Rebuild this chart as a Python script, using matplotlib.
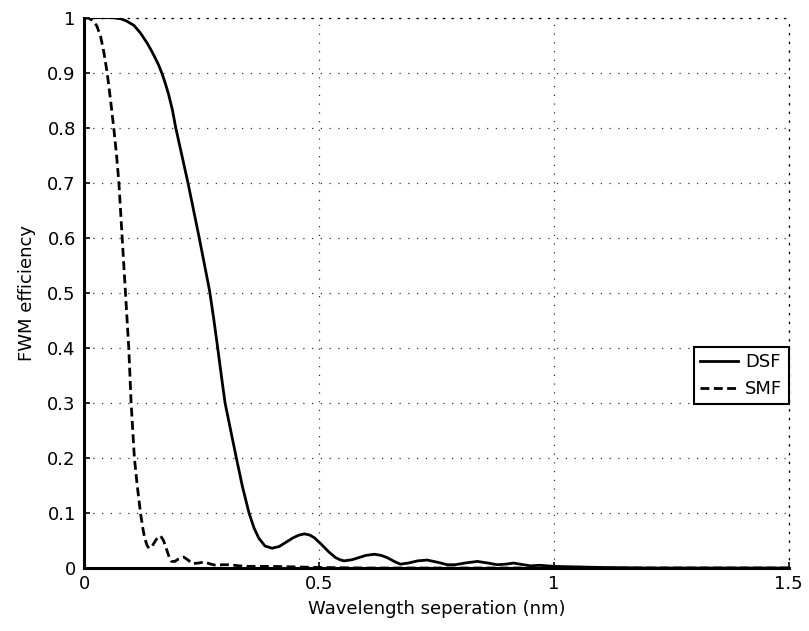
import matplotlib
matplotlib.use("Agg")
import matplotlib.pyplot as plt

plt.rcParams['font.family'] = ['DejaVu Sans']

# DSF (solid)
dsf_x = [0, 0.02, 0.04, 0.06, 0.078, 0.09, 0.106, 0.12, 0.134, 0.142, 0.15, 0.158,
         0.166, 0.173, 0.18, 0.188, 0.195, 0.208, 0.221, 0.233, 0.245, 0.256, 0.267,
         0.276, 0.284, 0.292, 0.300, 0.312, 0.324, 0.337, 0.351, 0.362, 0.372, 0.385,
         0.40, 0.415, 0.43, 0.445, 0.458, 0.469, 0.48, 0.49, 0.505, 0.52, 0.535, 0.545,
         0.553, 0.57, 0.585, 0.60, 0.618, 0.632, 0.645, 0.66, 0.673, 0.69, 0.71, 0.73,
         0.755, 0.773, 0.79, 0.81, 0.837, 0.86, 0.879, 0.897, 0.914, 0.935, 0.95, 0.97,
         0.985, 1.0, 1.05, 1.1, 1.2, 1.3, 1.4, 1.5]
dsf_y = [1.0, 1.0, 1.0, 1.0, 0.998, 0.994, 0.986, 0.972, 0.954, 0.942, 0.929, 0.915,
         0.898, 0.88, 0.86, 0.832, 0.80, 0.75, 0.70, 0.65, 0.60, 0.552, 0.504,
         0.452, 0.402, 0.35, 0.30, 0.25, 0.20, 0.148, 0.10, 0.072, 0.054, 0.04,
         0.036, 0.039, 0.047, 0.055, 0.060, 0.062, 0.060, 0.055, 0.043, 0.03, 0.019, 0.015,
         0.013, 0.015, 0.019, 0.023, 0.025, 0.023, 0.019, 0.012, 0.007, 0.009, 0.013, 0.0145,
         0.01, 0.006, 0.006, 0.009, 0.012, 0.009, 0.006, 0.007, 0.009, 0.006, 0.004, 0.005,
         0.004, 0.003, 0.002, 0.001, 0.0, 0.0, 0.0, 0.0]

# SMF (dashed)
smf_x = [0, 0.01, 0.018, 0.027, 0.035, 0.042, 0.049, 0.056, 0.063, 0.069, 0.074,
         0.081, 0.088, 0.095, 0.10, 0.107, 0.113, 0.12, 0.125, 0.129, 0.134, 0.138,
         0.145, 0.152, 0.158, 0.163, 0.169, 0.175, 0.181, 0.186, 0.193, 0.2, 0.212,
         0.222, 0.23, 0.243, 0.256, 0.27, 0.28, 0.295, 0.31, 0.33, 0.35, 0.4, 0.45,
         0.5, 0.6, 0.8, 1.0, 1.5]
smf_y = [1.0, 0.999, 0.995, 0.985, 0.966, 0.937, 0.90, 0.852, 0.80, 0.75, 0.70,
         0.60, 0.50, 0.40, 0.30, 0.20, 0.15, 0.10, 0.072, 0.054, 0.041, 0.036,
         0.040, 0.05, 0.057, 0.058, 0.05, 0.035, 0.02, 0.012, 0.012, 0.016, 0.02,
         0.014, 0.008, 0.009, 0.011, 0.007, 0.005, 0.006, 0.006, 0.004, 0.003, 0.003, 0.002,
         0.001, 0.0, 0.0, 0.0, 0.0]

x_ticks = [0, 0.5, 1, 1.5]
x_tick_labels = ['0', '0.5', '1', '1.5']
y_ticks = [0, 0.1, 0.2, 0.3, 0.4, 0.5, 0.6, 0.7, 0.8, 0.9, 1]
y_tick_labels = ['0', '0.1', '0.2', '0.3', '0.4', '0.5', '0.6', '0.7', '0.8', '0.9', '1']

FS = 13

fig = plt.figure(figsize=(8.09, 6.31), dpi=100)
ax = fig.add_axes([0.104, 0.0998, 0.871, 0.8722])

ax.plot(dsf_x, dsf_y, color='black', lw=2.0, label='DSF', solid_joinstyle='round')
ax.plot(smf_x, smf_y, color='black', lw=2.0, linestyle=(0, (3.2, 1.6)), label='SMF')

ax.set_xlim(0, 1.5)
ax.set_ylim(0, 1)
ax.set_xticks(x_ticks)
ax.set_xticklabels(x_tick_labels)
ax.set_yticks(y_ticks)
ax.set_yticklabels(y_tick_labels)
ax.tick_params(direction='in', length=4, width=1.2, labelsize=FS,
               top=False, right=False)
ax.tick_params(axis='y', pad=6)
ax.tick_params(axis='x', pad=5)

ax.grid(True, linestyle=(0, (1, 6)), lw=0.9, color='black', alpha=0.8)

for s in ['left', 'bottom']:
    ax.spines[s].set_linewidth(2.2)
for s in ['top', 'right']:
    ax.spines[s].set_linestyle((0, (1, 6)))
    ax.spines[s].set_linewidth(0.9)

ax.set_xlabel('Wavelength seperation (nm)', fontsize=FS, labelpad=5)
ax.set_ylabel('FWM efficiency', fontsize=FS, labelpad=8)

leg = ax.legend(loc='center right', bbox_to_anchor=(1.0, 0.35), fontsize=FS,
                frameon=True, fancybox=False, framealpha=1, edgecolor='black',
                handlelength=2.1, borderpad=0.35, labelspacing=0.5, handletextpad=0.4,
                borderaxespad=0.0)
leg.get_frame().set_linewidth(1.5)

fig.savefig('out.png', dpi=100)
